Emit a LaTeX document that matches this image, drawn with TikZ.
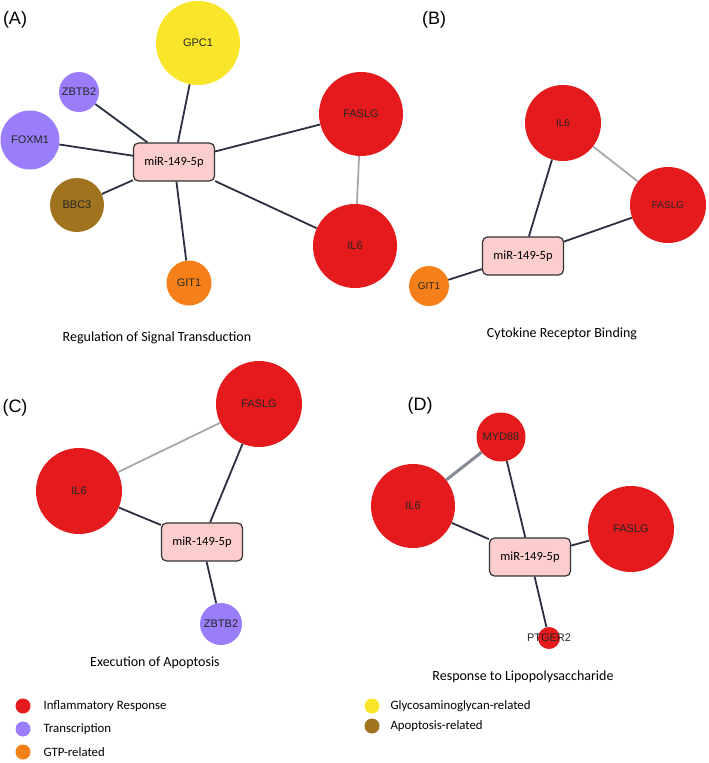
\documentclass[tikz,border=0pt]{standalone}
\usepackage{fontspec}
\setmainfont{Carlito}
\newfontfamily\arialfont{Liberation Sans}
\definecolor{cred}{HTML}{E41A1C}
\definecolor{cpurple}{HTML}{9A7DFA}
\definecolor{corange}{HTML}{F5801A}
\definecolor{cyellow}{HTML}{F9E52A}
\definecolor{cbrown}{HTML}{A0731E}
\definecolor{boxpink}{HTML}{FBCDCD}
\definecolor{edgedark}{HTML}{2A3042}
\definecolor{edgegray}{HTML}{A8A8AC}
\definecolor{edgegray2}{HTML}{858A94}
\begin{document}
\begin{tikzpicture}[x=1pt,y=-1pt,
  gene/.style={circle, inner sep=0pt, text=black!85, font=\arialfont\fontsize{11}{11}\selectfont},
  geneS/.style={gene, font=\arialfont\fontsize{10}{10}\selectfont},
  mirbox/.style={draw=black!80, fill=boxpink, rounded corners=5pt, minimum width=81pt, minimum height=38pt, line width=1.2pt, inner sep=0pt, font=\fontsize{12.5}{12.5}\selectfont},
  edge/.style={draw=edgedark, line width=1.8pt},
  gedge/.style={draw=edgegray, line width=1.8pt},
  gedgeB/.style={draw=edgegray2, line width=3pt},
  panellab/.style={font=\arialfont\fontsize{18}{18}\selectfont},
  ttl/.style={font=\fontsize{14}{14}\selectfont},
  legdot/.style={circle, minimum size=15pt, inner sep=0pt},
  legtxt/.style={anchor=west, font=\fontsize{12.8}{13}\selectfont}
]
\useasboundingbox (0,0) rectangle (709,763);

% ---------- Panel A ----------
\node[panellab] (labA) at (15,20) {(A)};
\node[mirbox] (mA) at (174,162) {miR-149-5p};
\node[gene, fill=cyellow, minimum size=84pt] (gpc1) at (198,43) {GPC1};
\node[gene, fill=cpurple, minimum size=40pt] (zbtb2A) at (79,92) {ZBTB2};
\node[gene, fill=cpurple, minimum size=59pt] (foxm1) at (30,140) {FOXM1};
\node[gene, fill=cbrown, minimum size=54pt] (bbc3) at (77,205) {BBC3};
\node[gene, fill=corange, minimum size=45pt] (git1A) at (189,283) {GIT1};
\node[gene, fill=cred, minimum size=84pt] (faslgA) at (361,114) {FASLG};
\node[gene, fill=cred, minimum size=84pt] (il6A) at (355,246) {IL6};
\node[ttl] (tA) at (157,338) {Regulation of Signal Transduction};
\draw[gedge] (faslgA) -- (il6A);
\foreach \t in {gpc1,zbtb2A,foxm1,bbc3,git1A,faslgA,il6A} \draw[edge] (mA) -- (\t);

% ---------- Panel B ----------
\node[panellab] (labB) at (434,20) {(B)};
\node[geneS, fill=cred, minimum size=76pt] (il6B) at (563,123) {IL6};
\node[geneS, fill=cred, minimum size=76pt] (faslgB) at (668,205) {FASLG};
\node[mirbox] (mB) at (523,256) {miR-149-5p};
\node[geneS, fill=corange, minimum size=40pt] (git1B) at (429,286) {GIT1};
\node[ttl] (tB) at (562,334) {Cytokine Receptor Binding};
\draw[gedge] (il6B) -- (faslgB);
\foreach \t in {il6B,faslgB,git1B} \draw[edge] (mB) -- (\t);

% ---------- Panel C ----------
\node[panellab] (labC) at (15,408) {(C)};
\node[gene, fill=cred, minimum size=86pt] (faslgC) at (259,404) {FASLG};
\node[gene, fill=cred, minimum size=86pt] (il6C) at (79,491) {IL6};
\node[mirbox] (mC) at (202,542) {miR-149-5p};
\node[gene, fill=cpurple, minimum size=42pt] (zbtb2C) at (221,624) {ZBTB2};
\node[ttl] (tC) at (155,663) {Execution of Apoptosis};
\draw[gedge] (faslgC) -- (il6C);
\foreach \t in {faslgC,il6C,zbtb2C} \draw[edge] (mC) -- (\t);

% ---------- Panel D ----------
\node[panellab] (labD) at (420,406) {(D)};
\node[gene, fill=cred, minimum size=49pt] (myd88) at (501,437) {MYD88};
\node[gene, fill=cred, minimum size=84pt] (il6D) at (413,506) {IL6};
\node[gene, fill=cred, minimum size=86pt] (faslgD) at (631,529) {FASLG};
\node[mirbox] (mD) at (530,557) {miR-149-5p};
\node[gene, fill=cred, minimum size=22pt] (ptger2) at (549,638) {};
\draw[gedgeB] (myd88) -- (il6D);
\foreach \t in {myd88,il6D,faslgD,ptger2} \draw[edge] (mD) -- (\t);
\node[gene] (ptger2lab) at (549,638) {PTGER2};
\node[ttl] (tD) at (523,677) {Response to Lipopolysaccharide};

% ---------- Legend ----------
\node[legdot, fill=cred] (l1) at (23,706) {};
\node[legtxt] (l1t) at (40,706) {Inflammatory Response};
\node[legdot, fill=cpurple] (l2) at (23,729) {};
\node[legtxt] (l2t) at (40,729) {Transcription};
\node[legdot, fill=corange] (l3) at (23,752) {};
\node[legtxt] (l3t) at (40,752) {GTP-related};
\node[legdot, fill=cyellow] (l4) at (372,706) {};
\node[legtxt] (l4t) at (387,706) {Glycosaminoglycan-related};
\node[legdot, fill=cbrown] (l5) at (372,726) {};
\node[legtxt] (l5t) at (387,726) {Apoptosis-related};
\end{tikzpicture}
\end{document}
